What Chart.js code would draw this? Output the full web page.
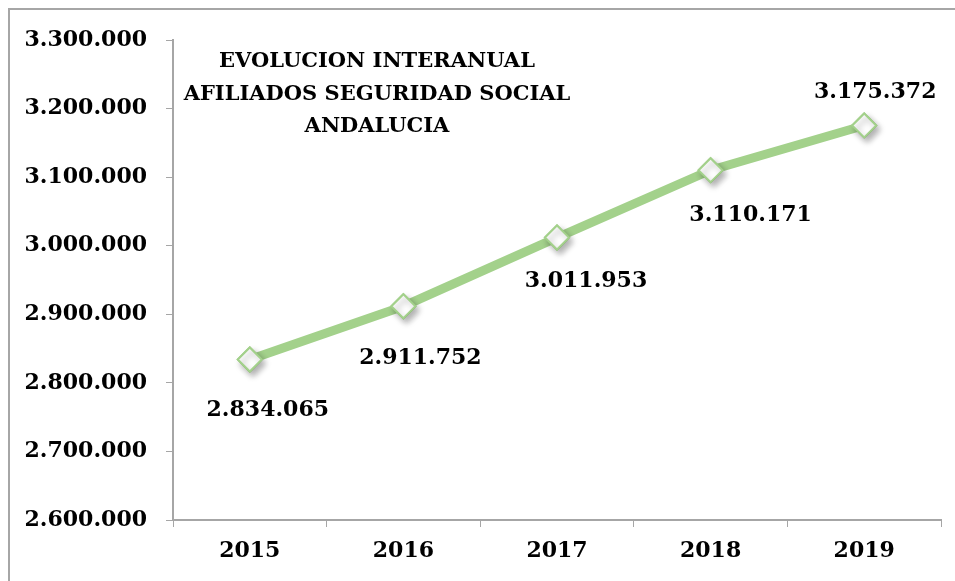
<!DOCTYPE html>
<html>
<head>
<meta charset="utf-8">
<script src="https://cdn.jsdelivr.net/npm/chart.js@4.4.1/dist/chart.umd.min.js"></script>
<style>
  html, body { margin: 0; padding: 0; background: #fff; overflow: hidden; }
  canvas { display: block; }
</style>
</head>
<body>
<canvas id="chart" width="955" height="581"></canvas>
<script>
// Datos
const years = ['2015', '2016', '2017', '2018', '2019'];
const afiliados = [2834065, 2911752, 3011953, 3110171, 3175372];
const titleLines = ['EVOLUCION INTERANUAL', 'AFILIADOS SEGURIDAD SOCIAL', 'ANDALUCIA'];
// desplazamiento de cada etiqueta respecto a su punto (px)
const labelOffsets = [[18, 51], [17, 52], [29, 44], [40, 45], [11, -33]];

const FONT = '"DejaVu Serif", "Liberation Serif", serif';
const GREEN = '#a3d18b';
const AXIS = '#a6a6a6';

// formato español con puntos de miles
function fmt(v) {
    return String(Math.round(v)).replace(/\B(?=(\d{3})+(?!\d))/g, '.');
}

// marco gris (solo lados izquierdo y superior visibles)
const framePlugin = {
    id: 'frame',
    beforeDraw(chart) {
        const ctx = chart.ctx;
        ctx.save();
        ctx.strokeStyle = AXIS;
        ctx.lineWidth = 2;
        ctx.beginPath();
        ctx.moveTo(9, chart.height);
        ctx.lineTo(9, 9);
        ctx.lineTo(chart.width, 9);
        ctx.stroke();
        ctx.restore();
    }
};

// Título, sombra de marcadores y etiquetas de datos
const overlayPlugin = {
    id: 'overlay',
    afterDatasetsDraw(chart) {
        const ctx = chart.ctx;
        const area = chart.chartArea;
        const meta = chart.getDatasetMeta(0);

        // marcadores otra vez con sombra suave
        ctx.save();
        ctx.shadowColor = 'rgba(0,0,0,0.3)';
        ctx.shadowBlur = 6;
        ctx.shadowOffsetX = 3;
        ctx.shadowOffsetY = 4;
        meta.data.forEach(pt => pt.draw(ctx, area));
        ctx.restore();

        ctx.save();
        ctx.fillStyle = '#000';
        ctx.textAlign = 'center';
        ctx.textBaseline = 'middle';

        // titulo dentro del area
        ctx.font = 'bold 21px ' + FONT;
        titleLines.forEach((t, i) => {
            ctx.fillText(t, area.left + 204, area.top + 22 + i * 32.5);
        });

        // valores
        ctx.font = 'bold 22px ' + FONT;
        meta.data.forEach((pt, i) => {
            const off = labelOffsets[i];
            ctx.fillText(fmt(afiliados[i]), pt.x + off[0], pt.y + off[1]);
        });
        ctx.restore();
    }
};

const ctx = document.getElementById('chart').getContext('2d');
new Chart(ctx, {
    type: 'line',
    data: {
        labels: years,
        datasets: [{
            data: afiliados,
            borderColor: GREEN,
            borderWidth: 9,
            tension: 0,
            pointStyle: 'rectRot',
            pointRadius: 12,
            pointBackgroundColor: '#ffffff',
            pointBorderColor: GREEN,
            pointBorderWidth: 2,
            pointHoverRadius: 12
        }]
    },
    options: {
        responsive: false,
        animation: false,
        events: [],
        layout: { padding: { top: 40, right: 12, left: 0, bottom: 0 } },
        plugins: {
            legend: { display: false },
            title: { display: false },
            tooltip: { enabled: false }
        },
        scales: {
            x: {
                offset: true,
                grid: {
                    offset: true,
                    drawOnChartArea: false,
                    drawTicks: true,
                    tickLength: 7,
                    color: AXIS
                },
                border: { color: AXIS, width: 2 },
                ticks: {
                    color: '#000',
                    padding: 11,
                    font: { family: FONT, size: 22, weight: 'bold' }
                },
                afterFit(scale) { scale.height = 61; }
            },
            y: {
                min: 2600000,
                max: 3300000,
                grid: {
                    drawOnChartArea: false,
                    drawTicks: true,
                    tickLength: 7,
                    color: AXIS
                },
                border: { color: AXIS, width: 2 },
                ticks: {
                    stepSize: 100000,
                    color: '#000',
                    padding: 19,
                    font: { family: FONT, size: 22, weight: 'bold' },
                    callback: v => fmt(v)
                },
                afterFit(scale) { scale.width = 173; }
            }
        }
    },
    plugins: [framePlugin, overlayPlugin]
});
</script>
</body>
</html>
